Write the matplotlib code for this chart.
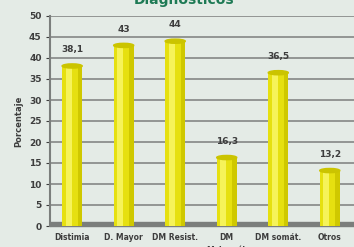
import numpy as np
import matplotlib.pyplot as plt
from matplotlib.patches import Ellipse

categorias = ['Distimia', 'D. Mayor', 'DM Resist.', 'DM\nMelancól.', 'DM somát.', 'Otros']
valores = [38.1, 43, 44, 16.3, 36.5, 13.2]
etiquetas = ['38,1', '43', '44', '16,3', '36,5', '13,2']

fondo = '#e4ebe6'
fig = plt.figure(figsize=(3.54, 2.47), dpi=100)
fig.patch.set_facecolor(fondo)
ax = fig.add_axes([50/354, 1-226/247, 1-50/354, 210/247])
ax.set_facecolor(fondo)

x = np.arange(len(valores))
w = 0.39
ax.set_xlim(-0.43, 5.47)
ax.set_ylim(0, 50)

for yv in range(5, 55, 5):
    ax.axhline(yv, color='#8c8f8d', lw=1.3, zorder=1)
# floor
ax.fill_between([-0.43, 5.47], -0.1, 0.9, color='#7b7e7c', zorder=1, clip_on=False)

ax.bar(x, valores, width=w, color='#e6e010', zorder=3)
ax.bar(x - w*0.18, valores, width=w*0.3, color='#f6f35a', zorder=3.1)
ax.bar(x + w*0.38, valores, width=w*0.22, color='#cfc800', zorder=3.1)
for xi, v in zip(x, valores):
    ax.add_patch(Ellipse((xi, v), w, 1.0, color='#cbc400', zorder=4))

for xi, v, t in zip(x, valores, etiquetas):
    ax.text(xi, v + 2.8, t, ha='center', va='bottom', fontsize=6.5,
            fontweight='bold', color='#3d3d3d')

ax.set_xticks(x)
ax.set_xticklabels(categorias, fontsize=5.5, fontweight='bold', color='#3d3d3d',
                   va='top', linespacing=1.6)
ax.tick_params(axis='x', length=0, pad=5)
ax.set_yticks(range(0, 55, 5))
ax.tick_params(axis='y', labelsize=6.5, colors='#3d3d3d', length=3, width=0.8, pad=3)
for lab in ax.get_yticklabels():
    lab.set_fontweight('bold')
ax.set_ylabel('Porcentaje', fontsize=6, fontweight='bold', color='#3d3d3d', labelpad=4)

for s in ['top', 'right', 'bottom']:
    ax.spines[s].set_visible(False)
ax.spines['left'].set_color('#7b7e7c')
ax.spines['left'].set_linewidth(1.5)

fig.text(0.52, 1.0, 'Diagnósticos', ha='center', va='center', fontsize=10,
         fontweight='bold', color='#1e7a55')

fig.savefig('out.png', dpi=100, facecolor=fondo)
